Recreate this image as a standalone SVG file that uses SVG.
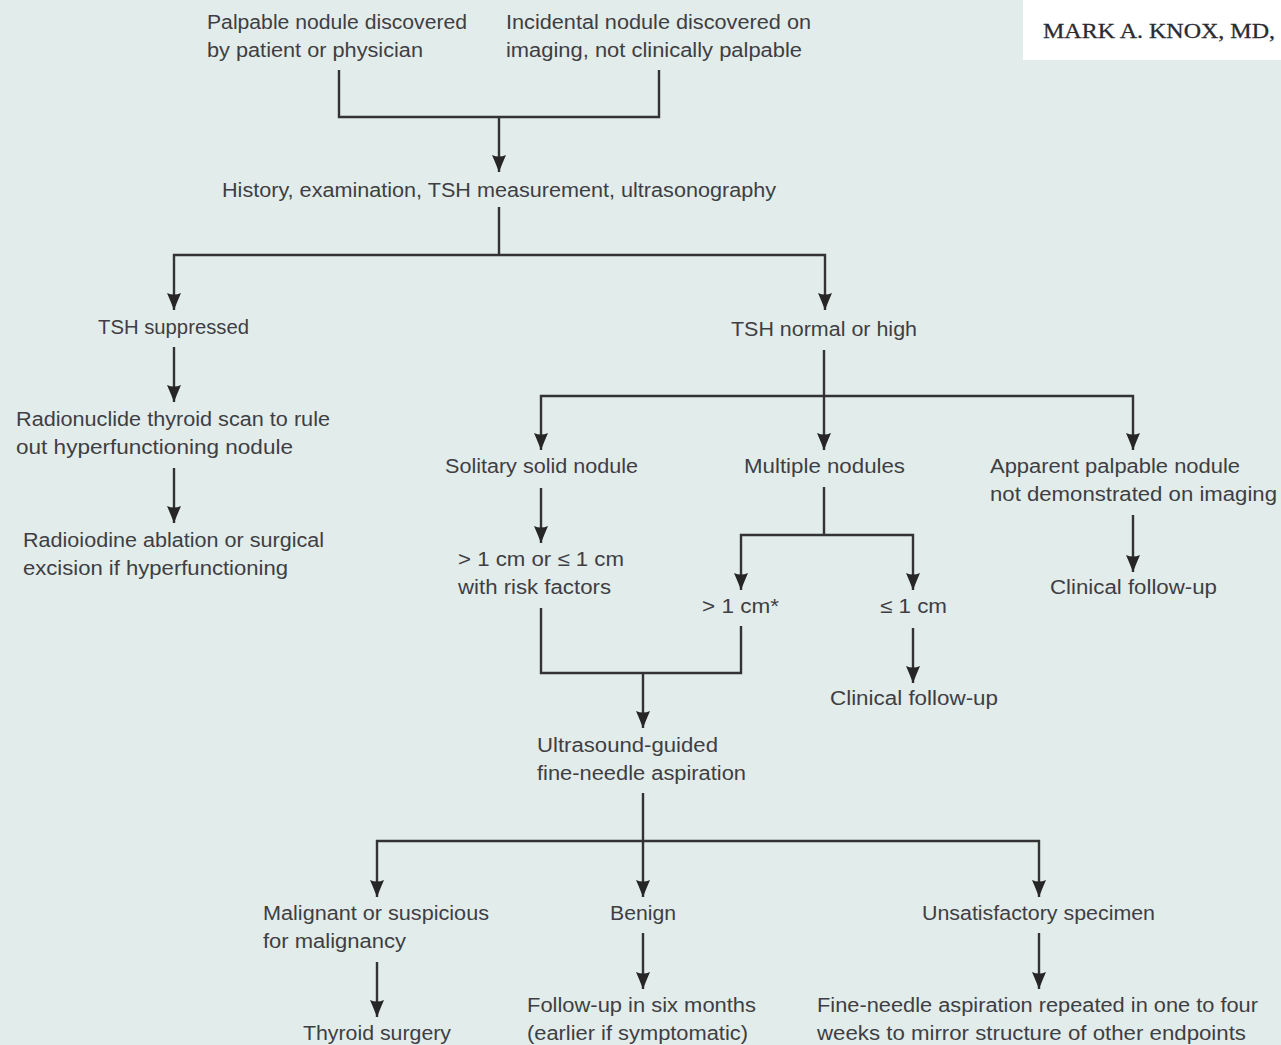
<svg xmlns="http://www.w3.org/2000/svg" width="1281" height="1045" viewBox="0 0 1281 1045">
<defs>
<marker id="ah" markerUnits="userSpaceOnUse" markerWidth="18" markerHeight="16" viewBox="0 -8 18 16" refX="17" refY="0" orient="auto">
<path d="M0,-7 Q8,-3.5 17,0 Q8,3.5 0,7 Q3,0 0,-7 z" fill="#262626"/>
</marker>
<style>
.t{font-family:"Liberation Sans",Arial,sans-serif;font-size:20px;fill:#3e3e44;}
.c{fill:none;stroke:#333;stroke-width:2.4;}
.a{marker-end:url(#ah);}
</style>
</defs>
<rect x="0" y="0" width="1281" height="1045" fill="#e2ecea"/>
<g id="header">
<rect x="1023" y="0" width="258" height="60" fill="#ffffff"/>
<text x="1043" y="38" font-family="'Liberation Serif','Times New Roman',serif" font-size="21.5" fill="#2a2a30" stroke="#2a2a30" stroke-width="0.3" textLength="232" lengthAdjust="spacingAndGlyphs">MARK A. KNOX, MD,</text>
</g>
<g id="connectors">
<path class="c" d="M339,70 V117 H659 V70"/>
<path class="c a" d="M499,117 V172"/>
<path class="c" d="M499,207 V255"/>
<path class="c a" d="M499,255 H174 V310"/>
<path class="c a" d="M499,255 H825 V310"/>
<path class="c a" d="M174,347 V402"/>
<path class="c a" d="M174,468 V523"/>
<path class="c a" d="M824,350 V450"/>
<path class="c a" d="M824,396 H541 V450"/>
<path class="c a" d="M824,396 H1133 V450"/>
<path class="c a" d="M541,488 V543"/>
<path class="c" d="M824,487 V535"/>
<path class="c a" d="M824,535 H741 V590"/>
<path class="c a" d="M824,535 H913 V590"/>
<path class="c a" d="M913,628 V683"/>
<path class="c a" d="M1133,515 V572"/>
<path class="c" d="M541,608 V673 H741 V626"/>
<path class="c a" d="M643,673 V728"/>
<path class="c a" d="M643,793 V897"/>
<path class="c a" d="M643,841 H377 V897"/>
<path class="c a" d="M643,841 H1039 V897"/>
<path class="c a" d="M377,962 V1017"/>
<path class="c a" d="M643,933 V989"/>
<path class="c a" d="M1039,933 V989"/>
</g>
<g id="n-palpable">
<text class="t" x="207" y="29" textLength="260" lengthAdjust="spacingAndGlyphs">Palpable nodule discovered</text>
<text class="t" x="207" y="57" textLength="216" lengthAdjust="spacingAndGlyphs">by patient or physician</text>
</g>
<g id="n-incidental">
<text class="t" x="506" y="29" textLength="305" lengthAdjust="spacingAndGlyphs">Incidental nodule discovered on</text>
<text class="t" x="506" y="57" textLength="296" lengthAdjust="spacingAndGlyphs">imaging, not clinically palpable</text>
</g>
<g id="n-history">
<text class="t" x="222" y="197" textLength="554" lengthAdjust="spacingAndGlyphs">History, examination, TSH measurement, ultrasonography</text>
</g>
<g id="n-tsh-supp">
<text class="t" x="98" y="334" textLength="151" lengthAdjust="spacingAndGlyphs">TSH suppressed</text>
</g>
<g id="n-tsh-normal">
<text class="t" x="731" y="336" textLength="186" lengthAdjust="spacingAndGlyphs">TSH normal or high</text>
</g>
<g id="n-scan">
<text class="t" x="16" y="426" textLength="314" lengthAdjust="spacingAndGlyphs">Radionuclide thyroid scan to rule</text>
<text class="t" x="16" y="454" textLength="277" lengthAdjust="spacingAndGlyphs">out hyperfunctioning nodule</text>
</g>
<g id="n-ablation">
<text class="t" x="23" y="547" textLength="301" lengthAdjust="spacingAndGlyphs">Radioiodine ablation or surgical</text>
<text class="t" x="23" y="575" textLength="265" lengthAdjust="spacingAndGlyphs">excision if hyperfunctioning</text>
</g>
<g id="n-solitary">
<text class="t" x="445" y="473" textLength="193" lengthAdjust="spacingAndGlyphs">Solitary solid nodule</text>
</g>
<g id="n-multiple">
<text class="t" x="744" y="473" textLength="161" lengthAdjust="spacingAndGlyphs">Multiple nodules</text>
</g>
<g id="n-apparent">
<text class="t" x="990" y="473" textLength="250" lengthAdjust="spacingAndGlyphs">Apparent palpable nodule</text>
<text class="t" x="990" y="501" textLength="287" lengthAdjust="spacingAndGlyphs">not demonstrated on imaging</text>
</g>
<g id="n-size-risk">
<text class="t" x="458" y="566" textLength="166" lengthAdjust="spacingAndGlyphs">&gt; 1 cm or ≤ 1 cm</text>
<text class="t" x="458" y="594" textLength="153" lengthAdjust="spacingAndGlyphs">with risk factors</text>
</g>
<g id="n-gt1">
<text class="t" x="702" y="613" textLength="77" lengthAdjust="spacingAndGlyphs">&gt; 1 cm*</text>
</g>
<g id="n-le1">
<text class="t" x="880" y="613" textLength="67" lengthAdjust="spacingAndGlyphs">≤ 1 cm</text>
</g>
<g id="n-followup-right">
<text class="t" x="1050" y="594" textLength="167" lengthAdjust="spacingAndGlyphs">Clinical follow-up</text>
</g>
<g id="n-followup-mid">
<text class="t" x="830" y="705" textLength="168" lengthAdjust="spacingAndGlyphs">Clinical follow-up</text>
</g>
<g id="n-fna">
<text class="t" x="537" y="752" textLength="181" lengthAdjust="spacingAndGlyphs">Ultrasound-guided</text>
<text class="t" x="537" y="780" textLength="209" lengthAdjust="spacingAndGlyphs">fine-needle aspiration</text>
</g>
<g id="n-malignant">
<text class="t" x="263" y="920" textLength="226" lengthAdjust="spacingAndGlyphs">Malignant or suspicious</text>
<text class="t" x="263" y="948" textLength="143" lengthAdjust="spacingAndGlyphs">for malignancy</text>
</g>
<g id="n-benign">
<text class="t" x="610" y="920" textLength="66" lengthAdjust="spacingAndGlyphs">Benign</text>
</g>
<g id="n-unsatisfactory">
<text class="t" x="922" y="920" textLength="233" lengthAdjust="spacingAndGlyphs">Unsatisfactory specimen</text>
</g>
<g id="n-surgery">
<text class="t" x="303" y="1040" textLength="148" lengthAdjust="spacingAndGlyphs">Thyroid surgery</text>
</g>
<g id="n-six-months">
<text class="t" x="527" y="1012" textLength="229" lengthAdjust="spacingAndGlyphs">Follow-up in six months</text>
<text class="t" x="527" y="1040" textLength="221" lengthAdjust="spacingAndGlyphs">(earlier if symptomatic)</text>
</g>
<g id="n-repeat">
<text class="t" x="817" y="1012" textLength="441" lengthAdjust="spacingAndGlyphs">Fine-needle aspiration repeated in one to four</text>
<text class="t" x="817" y="1040" textLength="429" lengthAdjust="spacingAndGlyphs">weeks to mirror structure of other endpoints</text>
</g>
</svg>
